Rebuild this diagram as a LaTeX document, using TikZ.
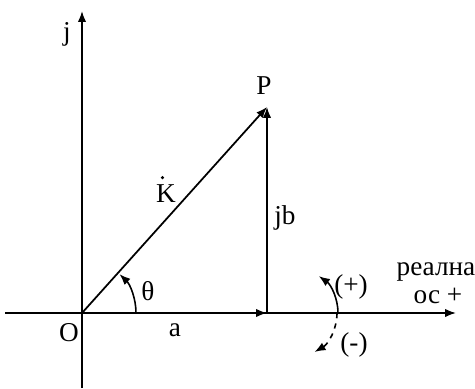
\documentclass[tikz,border=0pt]{standalone}
\usepackage{fontspec}
\setmainfont{Liberation Serif}
\usetikzlibrary{arrows.meta}

\begin{document}
\begin{tikzpicture}[x=0.02cm,y=0.02cm,>={Latex[length=2.2mm,width=1.7mm]},
    lbl/.style={font=\fontsize{15.5}{18}\selectfont,inner sep=1pt}]
    \useasboundingbox (0,0) rectangle (475,388);

    % Точки
    \coordinate (O) at (82,75);
    \coordinate (P) at (267,281);
    \coordinate (A) at (267,75);
    \coordinate (X0) at (5,75);
    \coordinate (X1) at (456,75);
    \coordinate (Y0) at (82,0);
    \coordinate (Y1) at (82,377);

    % Оси
    \draw[->,line width=1pt] (X0) -- (X1);
    \draw[->,line width=1pt] (Y0) -- (Y1);

    % Вектори
    \draw[->,line width=1pt] (O) -- (P);
    \draw[->,line width=1pt] (A) -- (P);
    \draw[->,line width=1pt] (O) -- (A);

    % Ъгъл
    \draw[->,line width=0.9pt] (136,75) arc[start angle=0,end angle=46,radius=54];

    % Посока на въртене
    \draw[->,line width=0.9pt] (338,75) arc[start angle=0,end angle=55,radius=45];
    \draw[->,line width=0.9pt,dashed] (337,75) arc[start angle=0,end angle=-60,radius=45];

    % Надписи
    \node[lbl] (lj) at (67,354) {j};
    \node[lbl] (lP) at (264,302) {P};
    \node[lbl] (lK) at (166,194) {K};
    \fill ([xshift=-2pt,yshift=3pt]lK.north) circle (1pt);
    \node[lbl] (ljb) at (285,170) {jb};
    \node[lbl] (lth) at (148,97) {θ};
    \node[lbl] (lO) at (69,55) {O};
    \node[lbl] (la) at (175,58) {a};
    \node[lbl] (lre) at (436,116) {реална};
    \node[lbl] (los) at (438,92) {ос +};
    \node[lbl] (lplus) at (351,101) {(+)};
    \node[lbl] (lminus) at (354,43) {(-)};
\end{tikzpicture}
\end{document}
